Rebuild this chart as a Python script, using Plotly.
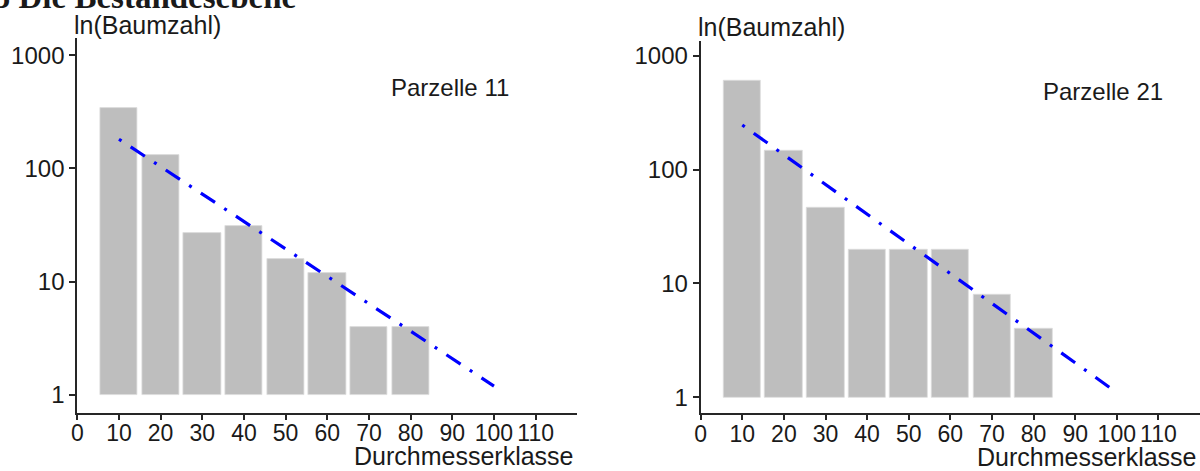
import plotly.graph_objects as go

# ---- data ----
classes = [10, 20, 30, 40, 50, 60, 70, 80]
counts_p11 = [340, 131, 27, 31, 16, 12, 4, 4]
counts_p21 = [600, 146, 46, 20, 20, 20, 8, 4]
fit_x = [10, 100]
fit_p11 = [181, 1.2]
fit_p21 = [247, 1.1]
x_ticks = [0, 10, 20, 30, 40, 50, 60, 70, 80, 90, 100, 110]
y_ticks = [1, 10, 100, 1000]
y_ticktext = ["1", "10", "100", "1000"]
panel_titles = ["Parzelle 11", "Parzelle 21"]

W, H = 1200, 471
FONT = "Liberation Sans, Arial, sans-serif"
TXT = "#1a1a1a"
AX = "#262626"

fig = go.Figure()

def px_x(p):
    return p / W

def px_y(p):
    return 1 - p / H

panels = [
    dict(counts=counts_p11, fit=fit_p11, xa="x", ya="y"),
    dict(counts=counts_p21, fit=fit_p21, xa="x2", ya="y2"),
]
for p in panels:
    fig.add_trace(go.Bar(
        x=classes, y=[c - 1 for c in p["counts"]], base=[1] * len(classes),
        width=9, marker=dict(color="#bebebe", line=dict(width=0.8, color="#dcdcdc")),
        xaxis=p["xa"], yaxis=p["ya"], showlegend=False, hoverinfo="skip",
    ))
    fig.add_trace(go.Scatter(
        x=fit_x, y=p["fit"], mode="lines",
        line=dict(color="#0000ff", width=3.2, dash="3px,11px,17px,11px"),
        xaxis=p["xa"], yaxis=p["ya"], showlegend=False, hoverinfo="skip",
    ))

xcommon = dict(range=[0, 120], tickvals=x_ticks, ticktext=[str(v) for v in x_ticks],
               showline=True, linecolor=AX, linewidth=2, ticks="outside", ticklen=5,
               tickwidth=1.5, tickcolor=AX, showgrid=False, zeroline=False, automargin=False,
               ticklabelstandoff=-6,
               tickfont=dict(family=FONT, size=23, color=TXT))
ycommon = dict(type="log", tickvals=y_ticks, ticktext=y_ticktext,
               showline=True, linecolor=AX, linewidth=2, ticks="outside", ticklen=6,
               tickwidth=1.5, tickcolor=AX, showgrid=False, zeroline=False, automargin=False,
               tickfont=dict(family=FONT, size=24, color=TXT))

fig.update_layout(
    width=W, height=H,
    margin=dict(l=0, r=0, t=0, b=0, autoexpand=False),
    paper_bgcolor="white", plot_bgcolor="white",
    bargap=0,
    xaxis=dict(domain=[px_x(77.3), px_x(577.3)], anchor="y", **xcommon),
    yaxis=dict(domain=[px_y(412.7), px_y(38)], range=[-0.156, 3.151], anchor="x", **ycommon),
    xaxis2=dict(domain=[px_x(700.7), 1.0], anchor="y2", **xcommon),
    yaxis2=dict(domain=[px_y(413.3), px_y(40.7)], range=[-0.141, 3.134], anchor="x2", **ycommon),
)

ann = []
# cut-off section heading at the very top
ann.append(dict(text="<b>3.5 Die Bestandesebene</b>", xref="paper", yref="paper",
                x=px_x(298), y=px_y(17), xanchor="right", yanchor="bottom",
                showarrow=False, font=dict(family="Liberation Serif, serif", size=33, color=TXT)))
# y-axis labels
for xl, yc in [(71.7, 25), (696, 26.7)]:
    ann.append(dict(text="ln(Baumzahl)", xref="paper", yref="paper", x=px_x(xl), y=px_y(yc),
                    xanchor="left", yanchor="middle", showarrow=False,
                    font=dict(family=FONT, size=25, color=TXT)))
# x-axis labels
for xr, yc in [(576, 455.5), (1199, 456.5)]:
    ann.append(dict(text="Durchmesserklasse", xref="paper", yref="paper", x=px_x(xr), y=px_y(yc),
                    xanchor="right", yanchor="middle", showarrow=False,
                    font=dict(family=FONT, size=25, color=TXT)))
# panel labels
ann.append(dict(text=panel_titles[0], xref="paper", yref="paper", x=px_x(511), y=px_y(88),
                xanchor="right", yanchor="middle", showarrow=False,
                font=dict(family=FONT, size=24, color=TXT)))
ann.append(dict(text=panel_titles[1], xref="paper", yref="paper", x=px_x(1165), y=px_y(91.7),
                xanchor="right", yanchor="middle", showarrow=False,
                font=dict(family=FONT, size=24, color=TXT)))
fig.update_layout(annotations=ann)

fig.write_html("out.html", config={"displayModeBar": False},
               post_script="document.body.style.margin='0';document.body.style.overflow='hidden';")
